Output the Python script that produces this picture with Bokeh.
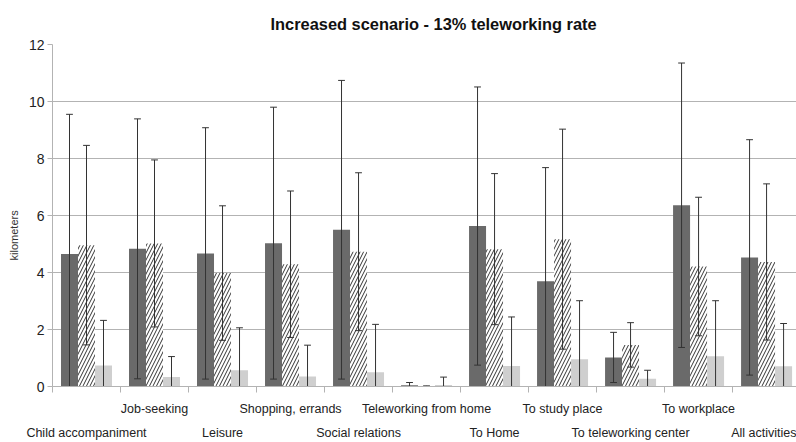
import numpy as np
from bokeh.plotting import figure
from bokeh.models import Range1d, FixedTicker, LinearAxis
from bokeh.embed import file_html
from bokeh.resources import INLINE

categories = ["Child accompaniment", "Job-seeking", "Leisure", "Shopping, errands",
              "Social relations", "Teleworking from home", "To Home", "To study place",
              "To teleworking center", "To workplace", "All activities"]

dark_mean = [4.65, 4.83, 4.67, 5.03, 5.50, 0.04, 5.63, 3.69, 1.02, 6.36, 4.53]
dark_sd = [4.90, 4.56, 4.41, 4.77, 5.24, 0.10, 4.88, 3.99, 0.88, 4.99, 4.13]
hatch_mean = [4.96, 5.02, 3.98, 4.29, 4.73, 0.01, 4.82, 5.17, 1.46, 4.21, 4.37]
hatch_sd = [3.50, 2.93, 2.36, 2.57, 2.77, 0.012, 2.65, 3.86, 0.78, 2.43, 2.74]
light_mean = [0.74, 0.33, 0.57, 0.35, 0.50, 0.05, 0.72, 0.96, 0.27, 1.06, 0.71]
light_sd = [1.58, 0.72, 1.49, 1.10, 1.68, 0.28, 1.72, 2.05, 0.30, 1.95, 1.50]

y_ticks = [0, 2, 4, 6, 8, 10, 12]

FONT = "Liberation Sans"
GRID = "#b3b3b3"
ERR = "#333333"

n = len(categories)
centers = np.arange(n) + 0.5
boundaries = list(range(n + 1))

p = figure(width=796, height=442, output_backend="svg", toolbar_location=None,
           x_range=Range1d(0, 10.94), y_range=Range1d(0, 12),
           min_border_left=52, min_border_right=0, min_border_top=44,
           min_border_bottom=0,
           title="Increased scenario - 13% teleworking rate")
p.title.align = "left"
p.title.offset = 218
p.title.standoff = 24
p.title.text_font = FONT
p.title.text_font_size = "16.4px"
p.title.text_font_style = "bold"
p.title.text_color = "#111111"
p.outline_line_color = None
p.background_fill_color = "white"
p.border_fill_color = "white"

series = [
    (dark_mean, dark_sd, -0.25, dict(fill_color="#6a6a6a")),
    (hatch_mean, hatch_sd, 0.0, dict(fill_color="white", hatch_pattern="/",
                                     hatch_color="#333333", hatch_scale=7,
                                     hatch_weight=1)),
    (light_mean, light_sd, 0.25, dict(fill_color="#cfcfcf")),
]

for mean, sd, off, style in series:
    xs = centers + off
    m = np.array(mean)
    p.vbar(x=xs, top=m, bottom=0, width=0.25, line_color=None, **style)

for mean, sd, off, style in series:
    xs = centers + off
    m = np.array(mean)
    s = np.array(sd)
    p.segment(x0=xs, y0=m - s, x1=xs, y1=m + s, line_color=ERR, line_width=1)
    p.segment(x0=xs - 0.05, y0=m + s, x1=xs + 0.05, y1=m + s, line_color=ERR, line_width=1)
    p.segment(x0=xs - 0.05, y0=m - s, x1=xs + 0.05, y1=m - s, line_color=ERR, line_width=1)

# grid
p.xgrid.visible = False
p.ygrid.grid_line_color = GRID
p.ygrid.grid_line_width = 1
p.ygrid.ticker = FixedTicker(ticks=y_ticks)

# y axis
ya = p.yaxis[0]
ya.ticker = FixedTicker(ticks=y_ticks)
ya.axis_line_color = GRID
ya.major_tick_line_color = GRID
ya.major_tick_out = 5
ya.major_tick_in = 0
ya.minor_tick_line_color = None
ya.major_label_text_font = FONT
ya.major_label_text_font_size = "14px"
ya.major_label_text_color = "#222222"
ya.major_label_standoff = 3
ya.axis_label = "kilometers" + "\u00a0" * 13
ya.axis_label_text_font = FONT
ya.axis_label_text_font_size = "11px"
ya.axis_label_text_font_style = "normal"
ya.axis_label_text_color = "#333333"
ya.axis_label_standoff = 6

# x axis: upper row of labels, ticks at category boundaries
xa = p.xaxis[0]
upper = centers[1::2]
lower = centers[0::2]
xa.ticker = FixedTicker(ticks=list(upper), minor_ticks=boundaries)
xa.major_label_overrides = {float(c): categories[i] for i, c in enumerate(centers) if i % 2 == 1}
xa.axis_line_color = GRID
xa.major_tick_line_color = None
xa.major_tick_out = 0
xa.major_tick_in = 0
xa.minor_tick_line_color = GRID
xa.minor_tick_out = 6
xa.minor_tick_in = 0
xa.major_label_text_font = FONT
xa.major_label_text_font_size = "12.5px"
xa.major_label_text_color = "#222222"
xa.major_label_standoff = 9
xa.axis_label_standoff = 0

xb = LinearAxis(ticker=FixedTicker(ticks=list(lower)),
                major_label_overrides={float(c): categories[i] for i, c in enumerate(centers) if i % 2 == 0})
xb.axis_line_color = None
xb.major_tick_line_color = None
xb.minor_tick_line_color = None
xb.major_tick_out = 0
xb.major_tick_in = 0
xb.major_label_text_font = FONT
xb.major_label_text_font_size = "12.5px"
xb.major_label_text_color = "#222222"
xb.major_label_standoff = 7
xb.axis_label_standoff = 0
p.add_layout(xb, "below")

open("out.html", "w").write(file_html(p, INLINE))
